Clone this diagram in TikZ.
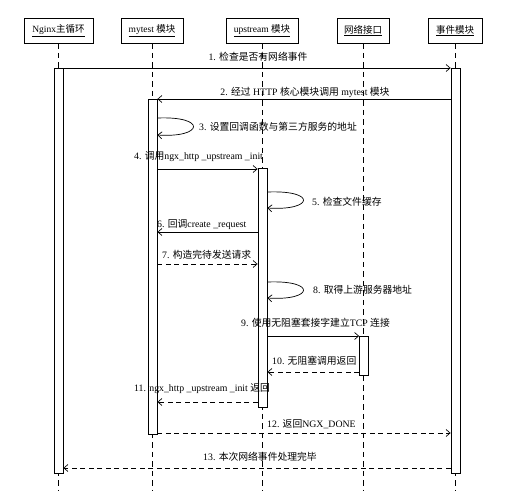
\documentclass[tikz,border=0pt]{standalone}
\usepackage{fontspec}
\setmainfont{Liberation Serif}
\newfontfamily\cjk{Noto Sans CJK SC}
\usetikzlibrary{arrows.meta}
\tikzset{
  hdr/.style={draw, line width=0.8pt, minimum height=25pt, inner sep=0pt, font=\fontsize{9.5}{11}\selectfont},
  lifeline/.style={line width=0.6pt, dash pattern=on 5.5pt off 4pt},
  bar/.style={draw, fill=white, line width=0.8pt, minimum width=9pt, inner sep=0pt},
  msg/.style={line width=0.7pt, -{Straight Barb[length=4pt,width=7pt]}},
  ret/.style={msg, dash pattern=on 5pt off 3.5pt},
  lbl/.style={inner sep=0pt, font=\fontsize{9.8}{11}\selectfont},
}
\begin{document}
\begin{tikzpicture}[x=1pt,y=-1pt]
\useasboundingbox (0,0) rectangle (515,497);
% headers
\node[hdr, minimum width=69pt] (ngx) at (58.5,30.5) {\underline{Nginx{\cjk 主循环}}};
\node[hdr, minimum width=62pt] (mt) at (152,30.5) {\underline{mytest {\cjk 模块}}};
\node[hdr, minimum width=72pt] (up) at (262,30.5) {\underline{upstream {\cjk 模块}}};
\node[hdr, minimum width=52pt] (net) at (363,30.5) {\underline{\cjk 网络接口}};
\node[hdr, minimum width=54pt] (ev) at (455,30.5) {\underline{\cjk 事件模块}};
% lifeline ends
\coordinate (ngxend) at (58.5,490);
\coordinate (mtend) at (152,490);
\coordinate (upend) at (262,490);
\coordinate (netend) at (363,490);
\coordinate (evend) at (455,490);
\draw[lifeline] (ngx.south) -- (ngxend);
\draw[lifeline] (mt.south) -- (mtend);
\draw[lifeline] (up.south) -- (upend);
\draw[lifeline] (net.south) -- (netend);
\draw[lifeline] (ev.south) -- (evend);
% activation bars
\node[bar, minimum height=405pt] (ngxbar) at (58.5,270.5) {};
\node[bar, minimum height=405pt] (evbar) at (455.5,270.5) {};
\node[bar, minimum height=335pt] (mtbar) at (152.5,266.5) {};
\node[bar, minimum height=239pt] (upbar) at (262.5,287.5) {};
\node[bar, minimum height=39pt] (netbar) at (364,355.5) {};
% messages
\draw[msg] (ngxbar.east |- 0,68) -- (evbar.west |- 0,68);
\node[lbl] (l1) at (258,57) {1. {\cjk 检查是否有网络事件}};
\draw[msg] (evbar.west |- 0,99) -- (mtbar.east |- 0,99);
\node[lbl] (l2) at (305,92) {2. {\cjk 经过} HTTP {\cjk 核心模块调用} mytest {\cjk 模块}};
\draw[msg] (mtbar.east |- 0,118) .. controls +(50,-2) and +(46,3) .. (mtbar.east |- 0,135);
\node[lbl, anchor=west] (l3) at (199,127) {3. {\cjk 设置回调函数与第三方服务的地址}};
\draw[msg] (mtbar.east |- 0,169) -- (upbar.west |- 0,169);
\node[lbl, anchor=west] (l4) at (134,157) {4. {\cjk 调用}ngx\_http \_upstream \_init};
\draw[msg] (upbar.east |- 0,192) .. controls +(50,-2) and +(46,3) .. (upbar.east |- 0,208);
\node[lbl, anchor=west] (l5) at (312,202) {5. {\cjk 检查文件缓存}};
\draw[msg] (upbar.west |- 0,232) -- (mtbar.east |- 0,232);
\node[lbl, anchor=west] (l6) at (157,225) {6. {\cjk 回调}create \_request};
\draw[ret] (mtbar.east |- 0,264) -- (upbar.west |- 0,264);
\node[lbl, anchor=west] (l7) at (162,255) {7. {\cjk 构造完待发送请求}};
\draw[msg] (upbar.east |- 0,282) .. controls +(50,-2) and +(46,3) .. (upbar.east |- 0,298);
\node[lbl, anchor=west] (l8) at (313,290) {8. {\cjk 取得上游服务器地址}};
\draw[msg] (upbar.east |- 0,336) -- (netbar.west |- 0,336);
\node[lbl, anchor=west] (l9) at (241,323) {9. {\cjk 使用无阻塞套接字建立}TCP {\cjk 连接}};
\draw[ret] (netbar.west |- 0,372) -- (upbar.east |- 0,372);
\node[lbl, anchor=west] (l10) at (272,361) {10. {\cjk 无阻塞调用返回}};
\draw[ret] (upbar.west |- 0,402) -- (mtbar.east |- 0,402);
\node[lbl, anchor=west] (l11) at (134,389) {11. ngx\_http \_upstream \_init {\cjk 返回}};
\draw[ret] (mtbar.east |- 0,433) -- (evbar.west |- 0,433);
\node[lbl, anchor=west] (l12) at (267,424) {12. {\cjk 返回}NGX\_DONE};
\draw[ret] (evbar.west |- 0,468) -- (ngxbar.east |- 0,468);
\node[lbl] (l13) at (260,457) {13. {\cjk 本次网络事件处理完毕}};
\end{tikzpicture}
\end{document}
